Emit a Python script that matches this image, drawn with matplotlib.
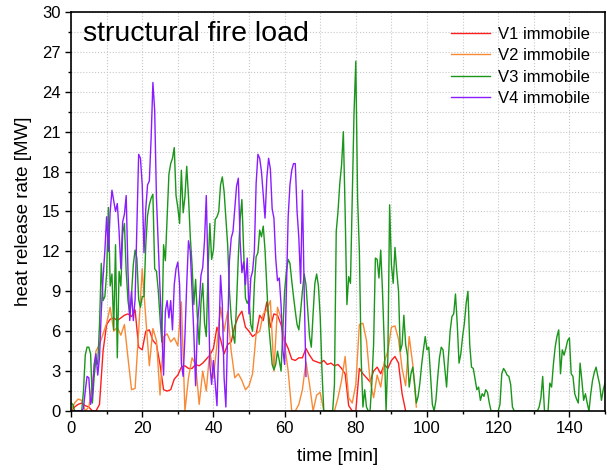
import numpy as np
import matplotlib
matplotlib.use("Agg")
import matplotlib.pyplot as plt
from matplotlib.ticker import MultipleLocator

plt.rcParams['font.family'] = ['Liberation Sans', 'DejaVu Sans']

# sampling interval of the logged data [min]
dt_v1 = 1.0
dt_v2 = 1.0
dt_v3 = 0.5
dt_v4 = 0.5

# heat release rate [MW]
v1_hrr = [0.0, 0.3, 0.5, 0.6, 0.4, 0.3, 0.0, 0.0, 0.5, 4.5,
          6.5, 6.9, 7.0, 6.8, 7.0, 7.2, 7.3, 7.1, 7.6, 4.8,
          4.6, 6.0, 6.1, 5.3, 5.0, 3.5, 1.6, 1.5, 1.6, 2.4,
          2.7, 3.3, 3.4, 3.2, 3.2, 3.5, 3.4, 3.6, 3.9, 4.2,
          4.7, 6.3, 5.4, 4.3, 5.0, 5.2, 6.4, 7.1, 7.5, 6.3,
          6.0, 5.6, 5.8, 7.2, 6.8, 8.2, 6.3, 7.3, 7.2, 6.5,
          5.3, 4.7, 3.9, 3.8, 4.0, 4.0, 4.7, 4.2, 3.8, 3.7,
          3.6, 3.8, 3.5, 3.6, 3.4, 3.5, 3.2, 2.8, 0.4, 0.0,
          0.0, 3.2, 2.8, 2.5, 2.2, 3.0, 3.3, 2.8, 3.5, 3.2,
          3.8, 4.1, 3.6, 1.3, 0.0]

v2_hrr = [0.0, 0.6, 0.9, 0.8, 0.0, 0.3, 2.0, 4.5, 5.0, 5.8,
          6.6, 7.8, 6.0, 6.3, 5.7, 6.5, 4.0, 1.6, 1.7, 6.0,
          10.7, 7.0, 3.4, 6.2, 5.3, 1.2, 5.6, 5.8, 5.2, 5.5,
          4.9, 8.2, 0.0, 2.5, 4.0, 3.5, 0.5, 3.0, 1.5, 4.6,
          2.5, 5.0, 7.8, 6.0, 7.5, 4.5, 2.5, 2.8, 2.3, 1.6,
          1.9, 2.8, 5.8, 6.0, 7.3, 7.6, 8.3, 3.0, 7.8, 7.0,
          5.0, 3.0, 0.0, 0.0, 0.5, 1.6, 3.7, 2.0, 0.0, 1.2,
          1.4, 0.0, 0.0, 0.0, 0.0, 1.0, 2.3, 4.1, 1.0, 0.6,
          2.0, 6.5, 6.6, 5.3, 2.3, 1.0, 2.7, 1.8, 3.7, 4.5,
          6.3, 6.4, 5.4, 3.2, 1.9, 5.6, 3.5, 0.3]

v3_hrr = [0.6, 0.5, 0.0, 0.0, 0.0, 0.0, 0.0, 1.5, 4.2, 4.8,
          4.8, 4.3, 0.6, 2.6, 3.9, 3.5, 6.5, 11.1, 8.3, 8.6,
          10.3, 15.3, 9.4, 10.3, 6.1, 12.5, 4.0, 10.5, 9.4, 13.3,
          14.1, 10.5, 8.3, 7.3, 8.8, 11.0, 12.1, 11.5, 8.4, 7.8,
          8.6, 8.6, 12.5, 14.7, 15.5, 16.0, 16.3, 10.7, 10.5, 9.1,
          7.0, 5.2, 12.5, 11.3, 14.6, 17.8, 18.6, 19.0, 19.8, 16.2,
          15.3, 14.1, 18.1, 14.9, 16.1, 18.4, 16.1, 13.1, 11.0, 8.0,
          9.9, 7.0, 5.0, 8.1, 9.6, 6.6, 5.6, 10.6, 14.1, 11.4,
          12.1, 14.4, 14.6, 15.0, 17.0, 17.6, 16.5, 14.5, 12.5, 9.0,
          7.0, 5.8, 5.1, 8.1, 11.6, 14.4, 15.9, 12.0, 8.5, 8.1,
          8.4, 6.5, 6.0, 9.5, 11.6, 11.9, 13.6, 13.1, 13.9, 12.1,
          9.4, 6.6, 5.0, 3.5, 3.1, 3.5, 4.5, 3.8, 3.0, 6.0,
          9.0, 10.5, 11.4, 11.1, 9.8, 8.6, 7.5, 6.5, 6.1, 7.5,
          9.0, 10.3, 9.5, 7.5, 5.6, 4.8, 7.3, 9.6, 10.3, 9.4,
          7.1, 3.0, 0.0, 0.0, 0.0, 0.0, 0.0, 0.0, 2.0, 13.5,
          15.0, 17.1, 18.5, 21.0, 15.0, 8.0, 10.1, 9.6, 15.9, 22.4,
          26.3, 16.0, 12.0, 4.0, 0.3, 1.6, 0.3, 0.0, 0.0, 2.1,
          5.0, 11.5, 11.4, 10.0, 12.1, 9.0, 5.0, 0.0, 4.0, 15.5,
          11.0, 9.6, 12.3, 10.5, 9.0, 4.5, 5.0, 7.2, 5.0, 4.2,
          1.8, 2.8, 3.3, 2.1, 0.6, 1.1, 2.1, 3.5, 4.6, 5.6,
          4.6, 4.8, 2.6, 0.5, 0.0, 0.8, 2.5, 4.0, 4.8, 4.6,
          3.2, 1.8, 4.0, 6.0, 7.1, 7.3, 8.8, 6.5, 3.6, 4.3,
          5.6, 6.6, 8.1, 9.0, 5.0, 3.3, 3.2, 2.4, 1.6, 1.8,
          0.8, 1.3, 1.1, 1.6, 1.4, 0.6, 0.0, 0.0, 0.0, 0.0,
          0.0, 0.5, 2.8, 3.2, 3.0, 2.7, 2.6, 2.0, 0.3, 0.0,
          0.0, 0.0, 0.0, 0.0, 0.0, 0.0, 0.0, 0.0, 0.0, 0.0,
          0.0, 0.0, 0.0, 0.3, 1.0, 2.6, 0.0, 0.0, 0.0, 2.1,
          1.8, 3.5, 4.8, 5.6, 6.1, 2.8, 4.6, 4.2, 4.7, 5.3,
          5.5, 2.8, 2.6, 1.3, 0.9, 0.6, 3.6, 2.3, 0.8, 1.3,
          0.6, 0.0, 1.3, 2.3, 2.9, 3.3, 2.6, 2.0, 0.8, 1.6,
          2.1]

v4_hrr = [0.0, 0.0, 0.0, 0.0, 0.0, 0.0, 0.0, 0.2, 1.5, 2.6,
          2.5, 0.5, 1.2, 3.5, 4.3, 2.7, 4.0, 7.5, 10.0, 12.0,
          14.6, 12.0, 15.0, 16.6, 15.8, 15.0, 15.6, 13.5, 10.7, 14.2,
          14.8, 16.2, 10.5, 6.8, 9.0, 6.8, 8.4, 14.0, 19.3, 19.0,
          17.0, 11.9, 15.2, 17.0, 17.3, 20.5, 24.7, 22.6, 16.0, 12.5,
          9.1, 6.1, 2.7, 7.5, 8.3, 7.0, 8.3, 6.1, 9.5, 10.7,
          11.2, 9.5, 3.6, 2.6, 5.6, 9.5, 12.8, 12.0, 9.0, 5.8,
          1.9, 6.5, 8.0, 10.2, 10.8, 12.8, 16.2, 10.2, 3.5, 2.0,
          3.8, 2.1, 0.4, 5.0, 10.2, 8.0, 2.5, 0.3, 6.0, 11.3,
          13.0, 13.5, 15.2, 16.9, 17.5, 12.8, 10.4, 11.2, 9.5, 11.5,
          7.3, 10.0, 10.5, 12.0, 17.1, 19.3, 19.0, 18.0, 16.2, 14.5,
          17.5, 19.0, 18.2, 15.2, 14.5, 11.5, 9.8, 10.0, 8.0, 4.6,
          3.5, 9.0, 14.6, 17.0, 18.1, 18.6, 18.6, 15.0, 13.0, 9.6,
          16.6, 9.0, 2.6]

series = [
    ("V1 immobile", v1_hrr, dt_v1, "#ff1e1e"),
    ("V2 immobile", v2_hrr, dt_v2, "#f98a35"),
    ("V3 immobile", v3_hrr, dt_v3, "#1a961a"),
    ("V4 immobile", v4_hrr, dt_v4, "#8b1cff"),
]

fig, ax = plt.subplots(figsize=(6.07, 4.70), dpi=100)
fig.subplots_adjust(left=0.117, right=0.9967, top=0.9745, bottom=0.1255)

for label, hrr, dt, color in series:
    t = np.arange(len(hrr)) * dt
    ax.plot(t, hrr, color=color, linewidth=1.0, label=label)

ax.set_xlim(0, 150)
ax.set_ylim(0, 30)
ax.xaxis.set_major_locator(MultipleLocator(20))
ax.xaxis.set_minor_locator(MultipleLocator(10))
ax.yaxis.set_major_locator(MultipleLocator(3))
ax.yaxis.set_minor_locator(MultipleLocator(1.5))
ax.grid(True, which="both", linestyle=":", color="#c8c8c8", linewidth=0.8)
ax.set_axisbelow(True)

ax.tick_params(which="major", direction="out", length=4, width=1, labelsize=12)
ax.tick_params(which="minor", direction="out", length=2, width=1)
for s in ax.spines.values():
    s.set_linewidth(1.2)

ax.set_xlabel("time [min]", fontsize=13.5, labelpad=8)
ax.set_ylabel("heat release rate [MW]", fontsize=13.5, labelpad=7)

ax.text(0.022, 0.945, "structural fire load", transform=ax.transAxes,
        fontsize=20.5, ha="left", va="center")

ax.legend(loc="upper right", frameon=False, fontsize=12,
          handlelength=2.3, labelspacing=0.38, handletextpad=0.5)

fig.savefig("out.png", dpi=100)
